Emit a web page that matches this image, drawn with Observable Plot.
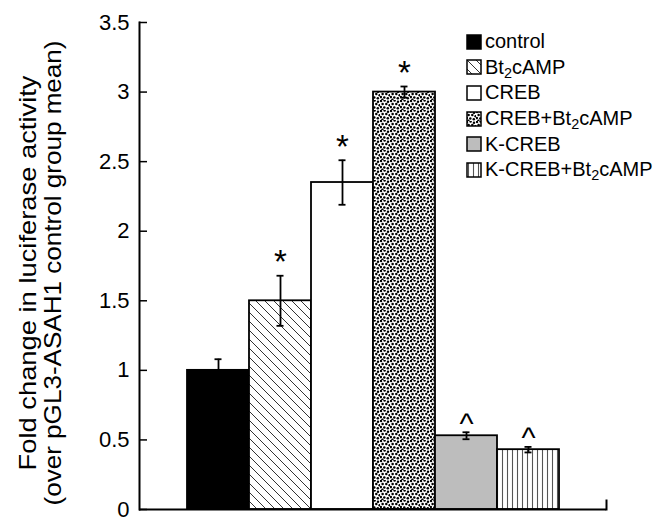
<!DOCTYPE html>
<html><head><meta charset="utf-8">
<script src="https://cdn.jsdelivr.net/npm/d3@7"></script>
<script src="https://cdn.jsdelivr.net/npm/@observablehq/plot@0.6"></script>
<style>
body{margin:0;background:#fff;}
#wrap{position:relative;width:664px;height:531px;font-family:"Liberation Sans",Arial,Helvetica,sans-serif;}
#wrap svg{display:block;}
#legend{position:absolute;left:466px;top:29px;}
.row{display:flex;align-items:center;height:25.6px;font-size:20px;color:#000;white-space:nowrap;}
.row svg{margin-right:3px;}
sub{font-size:0.72em;vertical-align:-0.3em;line-height:0;}
</style></head><body><div id="wrap"><div id="legend"></div></div>
<script>
const groups = ["control","Bt2cAMP","CREB","CREB+Bt2cAMP","K-CREB","K-CREB+Bt2cAMP"];
const values = [1.0, 1.5, 2.35, 3.0, 0.53, 0.43];
const errors = [0.08, 0.18, 0.16, 0.04, 0.025, 0.02];
const signif = ["", "*", "*", "*", "^", "^"];
const yTicks = [0, 0.5, 1, 1.5, 2, 2.5, 3, 3.5];
const yTickLabels = ["0", "0.5", "1", "1.5", "2", "2.5", "3", "3.5"];
const yLabel = ["Fold change in luciferase activity", "(over pGL3-ASAH1 control group mean)"];
const fills = ["#000", "url(#hatch)", "#fff", "url(#stipple)", "#bdbdbd", "url(#vlines)"];

const rows = groups.map((g, i) => ({group: g, value: values[i], err: errors[i], sig: signif[i]}));
const font = '"Liberation Sans", Arial, Helvetica, sans-serif';
const W = 664, H = 531, mL = 139, mR = 58, mT = 22, mB = 22;
const plotW = W - mL - mR, plotH = H - mT - mB;

const plot = Plot.plot({
  width: W, height: H,
  marginLeft: mL, marginRight: mR, marginTop: mT, marginBottom: mB,
  style: {fontFamily: font, fontSize: "22px", background: "#fff", color: "#000"},
  x: {domain: groups, paddingInner: 0, paddingOuter: 0.74, axis: null},
  y: {domain: [0, 3.5], ticks: yTicks, tickFormat: d => yTickLabels[yTicks.indexOf(d)], tickSize: 0, tickPadding: 10, label: null},
  color: {domain: groups, range: fills},
  marks: [
    Plot.barY(rows, {x: "group", y: "value", fill: "group", stroke: "#000", strokeWidth: 1.8}),
    Plot.ruleX(rows, {x: "group", y1: d => d.value - d.err, y2: d => d.value + d.err, stroke: "#000", strokeWidth: 1.8}),
    Plot.tickY(rows, {x: "group", y: d => d.value + d.err, inset: 27.5, stroke: "#000", strokeWidth: 1.8}),
    Plot.tickY(rows, {x: "group", y: d => d.value - d.err, inset: 27.5, stroke: "#000", strokeWidth: 1.8}),
    Plot.text(rows.filter(d => d.sig === "*"), {x: "group", y: d => d.value + d.err, text: "sig", dy: -13, fontSize: 33}),
    Plot.text(rows.filter(d => d.sig === "^"), {x: "group", y: d => d.value + d.err, text: "sig", dy: -8, fontSize: 30}),
    Plot.ruleY(yTicks, {y: d => d, insetRight: plotW - 8, stroke: "#000", strokeWidth: 1.5}),
    Plot.ruleY([0], {stroke: "#000", strokeWidth: 2}),
    Plot.frame({anchor: "left", stroke: "#000", strokeWidth: 2}),
    Plot.frame({anchor: "right", insetTop: plotH - 9, stroke: "#000", strokeWidth: 2}),
    Plot.text([yLabel[0]], {frameAnchor: "left", textAnchor: "middle", rotate: -90, dx: -111, dy: 7, fontSize: 24}),
    Plot.text([yLabel[1]], {frameAnchor: "left", textAnchor: "middle", rotate: -90, dx: -86, dy: 7, fontSize: 24})
  ]
});

const svg = d3.select(plot);
const defs = svg.insert("defs", ":first-child");
const hatch = defs.append("pattern").attr("id", "hatch").attr("patternUnits", "userSpaceOnUse").attr("width", 9).attr("height", 9);
hatch.append("rect").attr("width", 9).attr("height", 9).attr("fill", "#fff");
hatch.append("path").attr("d", "M0,0L9,9M-1,8L1,10M8,-1L10,1").attr("stroke", "#333").attr("stroke-width", 1);

const stip = defs.append("pattern").attr("id", "stipple").attr("patternUnits", "userSpaceOnUse").attr("width", 10).attr("height", 10);
stip.append("rect").attr("width", 10).attr("height", 10).attr("fill", "#fff");
const dotsPts = [[1,1],[4.6,0.6],[8,1.8],[2.6,3.9],[6.3,4.1],[9.6,5.2],[0.8,7],[4.3,7.4],[7.8,8.3],[2.4,9.8]];
stip.selectAll("circle").data(dotsPts).join("circle").attr("cx", d => d[0]).attr("cy", d => d[1]).attr("r", 1.25).attr("fill", "#000");

const vl = defs.append("pattern").attr("id", "vlines").attr("patternUnits", "userSpaceOnUse").attr("width", 5).attr("height", 10);
vl.append("rect").attr("width", 5).attr("height", 10).attr("fill", "#fff");
vl.append("line").attr("x1", 2.5).attr("x2", 2.5).attr("y1", 0).attr("y2", 10).attr("stroke", "#555").attr("stroke-width", 1.1);

// stretch the axis title lines to the reference's lengths
const titleLen = [395, 465];
svg.selectAll("text").each(function() {
  const k = yLabel.indexOf(this.textContent);
  if (k >= 0) d3.select(this).attr("textLength", titleLen[k]).attr("lengthAdjust", "spacingAndGlyphs");
});

document.getElementById("wrap").prepend(plot);

const legend = d3.select("#legend");
groups.forEach((g, i) => {
  const row = legend.append("div").attr("class", "row");
  const sw = row.append("svg").attr("width", 16).attr("height", 16);
  sw.append("rect").attr("x", 1).attr("y", 1).attr("width", 14).attr("height", 14).attr("fill", fills[i]).attr("stroke", "#000").attr("stroke-width", 1.5);
  const parts = g.split("Bt2");
  const span = row.append("span");
  parts.forEach((p, j) => {
    if (j > 0) { span.append("span").text("Bt"); span.append("sub").text("2"); }
    span.append("span").text(p);
  });
});
</script></body></html>
